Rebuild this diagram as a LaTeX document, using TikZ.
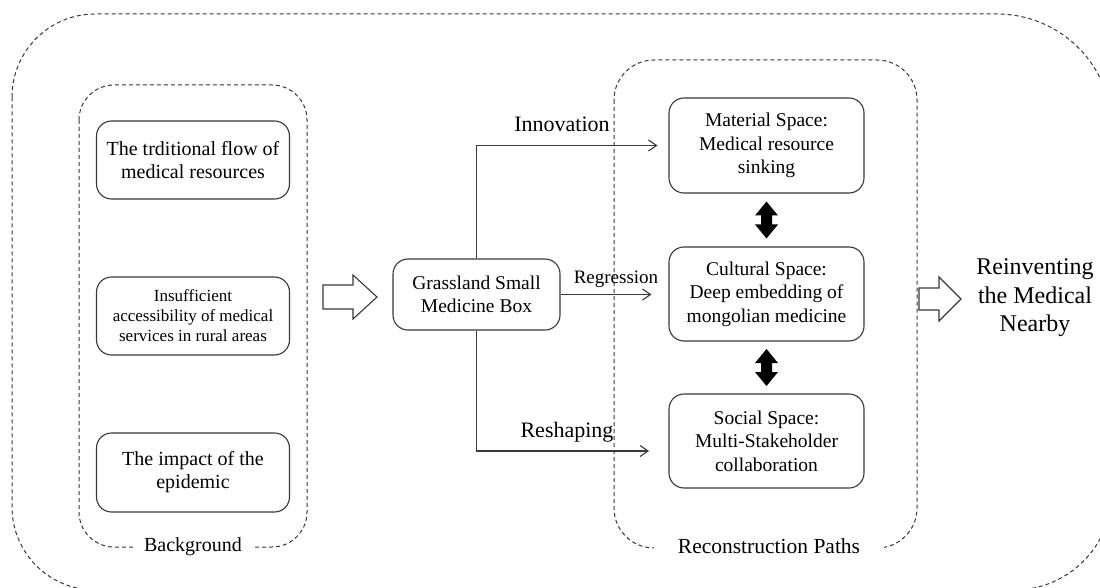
\documentclass[tikz,border=0pt]{standalone}
\usepackage{fontspec}
\setmainfont{Liberation Serif}
\usetikzlibrary{arrows.meta,calc}
\newcommand\myfs[2]{\fontsize{#1}{#2}\selectfont}
\definecolor{linec}{gray}{0.22}
\begin{document}
\begin{tikzpicture}[x=1pt,y=-1pt,
  box/.style={draw=linec, rounded corners=15pt, line width=1.1pt, align=center, inner sep=0pt},
  dbox/.style={draw=linec, dash pattern=on 4pt off 3pt, line width=1pt},
  conn/.style={draw=linec, line width=1.1pt, -{Straight Barb[length=8pt,width=11pt]}},
  grouplabel/.style={fill=white, inner ysep=2pt},
  hollow/.style={draw=linec, line width=1.1pt, fill=white, line join=miter},
  dblarrow/.pic={\fill[black] (0,-18.5) -- (11.5,-4.5) -- (5.5,-4.5) -- (5.5,4.5) -- (11.5,4.5) -- (0,18.5) -- (-11.5,4.5) -- (-5.5,4.5) -- (-5.5,-4.5) -- (-11.5,-4.5) -- cycle;}
]
\useasboundingbox (0,0) rectangle (1100,588);
\clip (0,0) rectangle (1100,588);
\fill[white] (0,0) rectangle (1100,588);

% outer dashed frame
\draw[dbox] (12,97) arc[start angle=180,end angle=270,radius=83]
  -- (997,14) arc[start angle=270,end angle=360,radius=115]
  -- (1112,492) arc[start angle=0,end angle=90,radius=98]
  -- (95,590) arc[start angle=90,end angle=180,radius=83] -- cycle;

% Background group
\draw[dbox, rounded corners=35pt] (79,85) rectangle (307,547);
\node[grouplabel, inner xsep=10pt, font=\myfs{20}{23}] (bglabel) at (193,547) {Background};

\node[box, minimum width=193pt, minimum height=78pt, font=\myfs{20}{23}] (b1) at (193,160) {The trditional flow of\\medical resources};
\node[box, minimum width=193pt, minimum height=78pt, font=\myfs{17}{20}] (b2) at (193,316) {Insufficient\\accessibility of medical\\services in rural areas};
\node[box, minimum width=193pt, minimum height=79pt, font=\myfs{20}{23}] (b3) at (193,472.5) {The impact of the\\epidemic};

% hollow arrow 1
\draw[hollow] (323,285) -- (353,285) -- (353,275) -- (377,297) -- (353,319) -- (353,309) -- (323,309) -- cycle;

% central box
\node[box, minimum width=167pt, minimum height=71pt, font=\myfs{19.5}{23}] (g) at (476.5,294.5) {Grassland Small\\Medicine Box};

% Reconstruction group
\draw[dbox, rounded corners=40pt] (614,60) rectangle (917,548);
\node[grouplabel, inner xsep=24pt, font=\myfs{21.5}{25}] (rplabel) at (769,546) {Reconstruction Paths};

\node[box, minimum width=195pt, minimum height=95pt, font=\myfs{19.5}{23.5}] (mat) at (766.5,145.5) {Material Space:\\Medical resource\\sinking};
\node[box, minimum width=195pt, minimum height=94pt, font=\myfs{19.5}{23.5}] (cul) at (766.5,294) {Cultural Space:\\Deep embedding of\\mongolian medicine};
\node[box, minimum width=195pt, minimum height=94pt, font=\myfs{19.5}{23.5}] (soc) at (766.5,441) {Social Space:\\Multi-Stakeholder\\collaboration};

% double arrows
\pic at ($(mat.south)!0.5!(cul.north)$) {dblarrow};
\pic at ($(cul.south)!0.5!(soc.north)$) {dblarrow};

% connectors
\coordinate (reshend) at (649,451);
\draw[conn, shorten >=11pt] (g.north) |- (mat.west);
\draw[conn, shorten >=17pt] (g.east) -- (g.east -| cul.west);
\draw[conn] (g.south) |- (reshend);

% connector labels
\node[anchor=base, font=\myfs{22}{26}, inner sep=0pt] (innov) at (562,132) {Innovation};
\node[anchor=base, font=\myfs{19}{23}, inner sep=0pt] (regr) at (616,283) {Regression};
\node[anchor=base, font=\myfs{22}{26}, inner sep=0pt] (resh) at (567,437) {Reshaping};

% hollow arrow 2
\draw[hollow] (919,288) -- (939,288) -- (939,277) -- (961,299) -- (939,321) -- (939,310) -- (919,310) -- cycle;

% result text
\node[align=center, font=\myfs{24}{28.5}, inner sep=0pt] (reinv) at (1035,298) {Reinventing\\the Medical\\Nearby};
\end{tikzpicture}
\end{document}
